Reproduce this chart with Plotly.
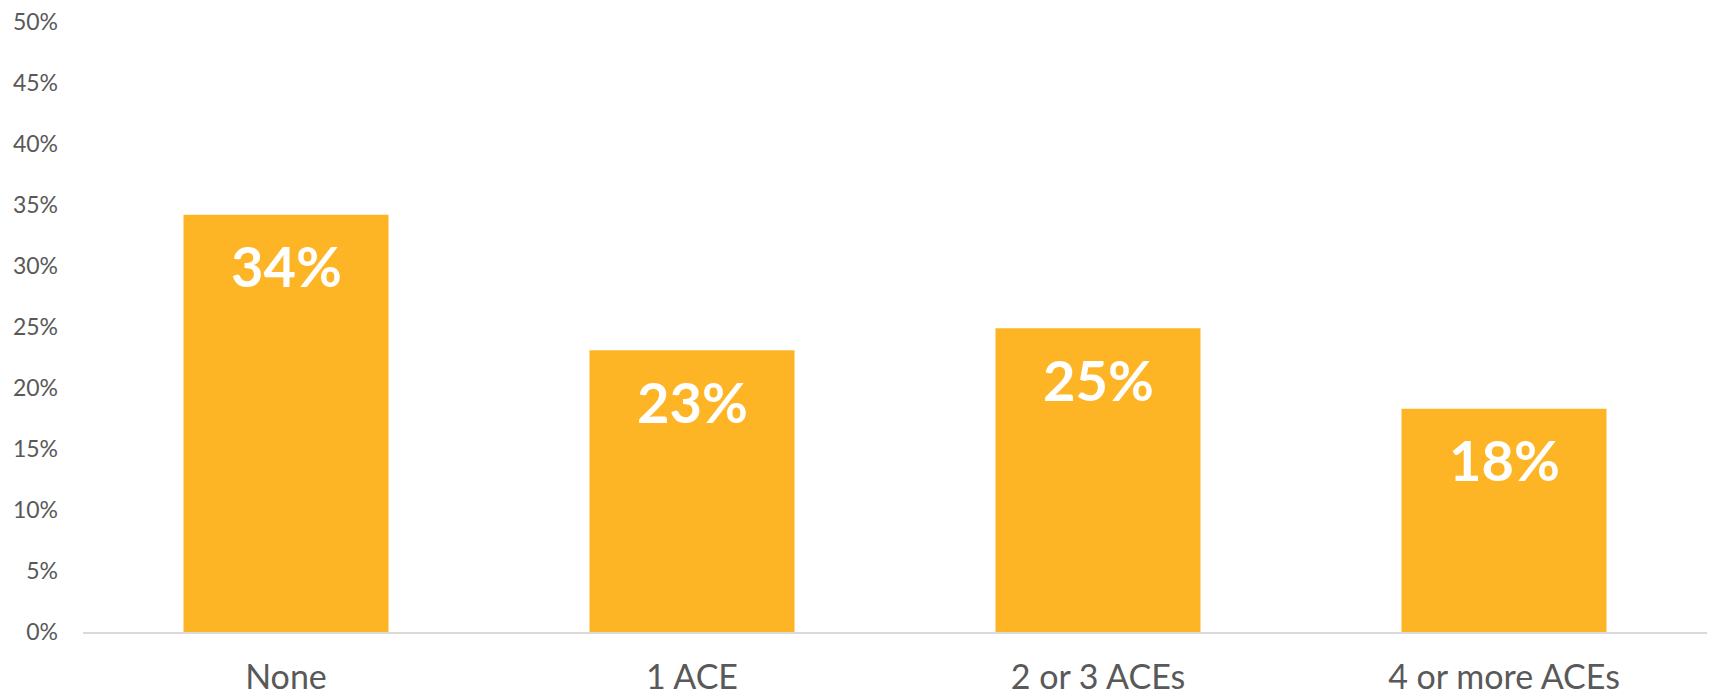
import plotly.graph_objects as go

categories = ["None", "1 ACE", "2 or 3 ACEs", "4 or more ACEs"]
values = [34.2, 23.1, 24.9, 18.3]
labels = ["34%", "23%", "25%", "18%"]
tick_vals = [0, 5, 10, 15, 20, 25, 30, 35, 40, 45, 50]
tick_text = ["0%", "5%", "10%", "15%", "20%", "25%", "30%", "35%", "40%", "45%", "50%"]

BAR = "#FDB526"
FONT = "Lato"

fig = go.Figure()
fig.add_trace(go.Bar(x=categories, y=values, marker=dict(color=BAR, line=dict(width=0)),
                     hoverinfo="skip"))

for c, v, t in zip(categories, values, labels):
    fig.add_annotation(x=c, y=v, text="<b>%s</b>" % t, showarrow=False,
                       yanchor="middle", yshift=-51,
                       font=dict(family=FONT, size=56, color="white"))

# page body has an 8px default margin, so the figure is offset by (8, 8)
fig.update_layout(
    width=1707, height=687,
    margin=dict(l=75, r=8, t=14, b=63),
    paper_bgcolor="white", plot_bgcolor="white",
    bargap=0.495,
    showlegend=False,
    font=dict(family=FONT, color="#595959"),
)
fig.update_xaxes(showline=True, linecolor="#D9D9D9", linewidth=1.5,
                 showgrid=False, ticks="", tickfont=dict(size=34, color="#595959"),
                 ticklabelstandoff=14, automargin=False)
fig.update_yaxes(range=[0, 50], tickvals=tick_vals, ticktext=tick_text,
                 showgrid=False, zeroline=False, showline=False, ticks="",
                 tickfont=dict(size=23, color="#595959"), ticklabelstandoff=24,
                 ticklabeloverflow="allow", automargin=False)

fig.write_html("out.html")
